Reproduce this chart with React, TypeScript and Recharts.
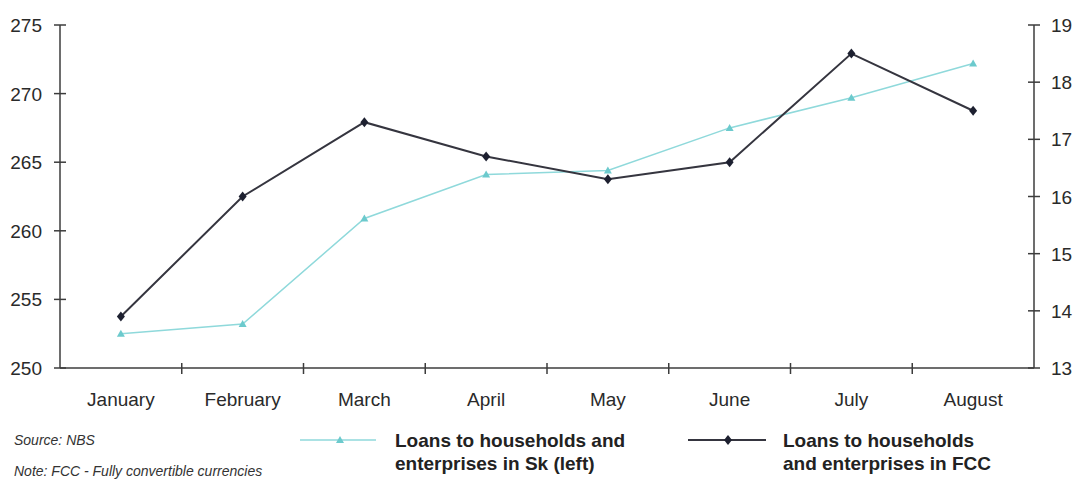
import { LineChart, Line, XAxis, YAxis } from 'recharts'

const months = ['January', 'February', 'March', 'April', 'May', 'June', 'July', 'August']
const loansSk = [252.5, 253.2, 260.9, 264.1, 264.4, 267.5, 269.7, 272.2]
const loansFcc = [13.9, 16.0, 17.3, 16.7, 16.3, 16.6, 18.5, 17.5]
const leftTicks = [250, 255, 260, 265, 270, 275]
const rightTicks = [13, 14, 15, 16, 17, 18, 19]

const data = months.map((month, i) => ({ month, sk: loansSk[i], fcc: loansFcc[i] }))

const W = 1077
const H = 479
const AXIS = '#3c3c3c'
const TEXT = '#2a2a2a'
const CYAN = '#8fd9db'
const CYAN_DOT = '#6ccacd'
const DARK = '#35353f'
const FONT = '"Liberation Sans", Arial, sans-serif'
const BAND = (W - 60 - 43) / months.length

function Triangle(props: any) {
  const { cx, cy } = props
  if (cx == null || cy == null) return null
  return <path d={`M${cx},${cy - 4} L${cx + 4},${cy + 3} L${cx - 4},${cy + 3} Z`} fill={CYAN_DOT} />
}

function Diamond(props: any) {
  const { cx, cy } = props
  if (cx == null || cy == null) return null
  return <path d={`M${cx},${cy - 5} L${cx + 4},${cy} L${cx},${cy + 5} L${cx - 4},${cy} Z`} fill="#1d2030" />
}

function LeftTick(props: any) {
  const { x, y, payload } = props
  return (
    <g>
      <line x1={x - 6} x2={x + 6} y1={y} y2={y} stroke={AXIS} strokeWidth={1.5} />
      <text x={x - 18} y={y} dy={7} textAnchor="end" fontSize={19} fill={TEXT} fontFamily={FONT}>
        {payload.value}
      </text>
    </g>
  )
}

function RightTick(props: any) {
  const { x, y, payload } = props
  return (
    <g>
      <line x1={x - 6} x2={x + 6} y1={y} y2={y} stroke={AXIS} strokeWidth={1.5} />
      <text x={x + 17} y={y} dy={7} textAnchor="start" fontSize={19} fill={TEXT} fontFamily={FONT}>
        {payload.value}
      </text>
    </g>
  )
}

function MonthTick(props: any) {
  const { x, y, payload, index } = props
  const edge = x + BAND / 2
  return (
    <g>
      {index < months.length - 1 && (
        <line x1={edge} x2={edge} y1={y - 5} y2={y + 6} stroke={AXIS} strokeWidth={1.5} />
      )}
      <text x={x} y={y + 38} textAnchor="middle" fontSize={19} fill={TEXT} fontFamily={FONT}>
        {payload.value}
      </text>
    </g>
  )
}

export default function App() {
  return (
    <div style={{ position: 'absolute', left: 0, top: 0, width: W, height: H, background: '#fff', fontFamily: FONT }}>
      <LineChart width={W} height={H} data={data} margin={{ top: 25, right: 0, bottom: 71, left: 0 }}>
        <XAxis
          dataKey="month"
          stroke={AXIS}
          strokeWidth={1.5}
          tickLine={false}
          tickSize={0}
          tickMargin={0}
          height={40}
          interval={0}
          padding={{ left: BAND / 2, right: BAND / 2 }}
          tick={<MonthTick />}
        />
        <YAxis
          yAxisId="left"
          domain={[250, 275]}
          ticks={leftTicks}
          width={60}
          stroke={AXIS}
          strokeWidth={1.5}
          tickLine={false}
          tickSize={0}
          tickMargin={0}
          tick={<LeftTick />}
        />
        <YAxis
          yAxisId="right"
          orientation="right"
          domain={[13, 19]}
          ticks={rightTicks}
          width={43}
          stroke={AXIS}
          strokeWidth={1.5}
          tickLine={false}
          tickSize={0}
          tickMargin={0}
          tick={<RightTick />}
        />
        <Line
          yAxisId="left"
          dataKey="sk"
          stroke={CYAN}
          strokeWidth={1.5}
          dot={<Triangle />}
          isAnimationActive={false}
        />
        <Line
          yAxisId="right"
          dataKey="fcc"
          stroke={DARK}
          strokeWidth={2}
          dot={<Diamond />}
          isAnimationActive={false}
        />
      </LineChart>

      <div style={{ position: 'absolute', left: 14, top: 432, fontSize: 14, fontStyle: 'italic', color: '#333' }}>
        Source: NBS
      </div>
      <div style={{ position: 'absolute', left: 14, top: 463, fontSize: 14, fontStyle: 'italic', color: '#333' }}>
        Note: FCC - Fully convertible currencies
      </div>

      <svg style={{ position: 'absolute', left: 0, top: 0 }} width={W} height={H}>
        <line x1={300} x2={376} y1={440} y2={440} stroke={CYAN} strokeWidth={1.5} />
        <Triangle cx={340} cy={440} />
        <line x1={688} x2={766} y1={440} y2={440} stroke={DARK} strokeWidth={2} />
        <Diamond cx={728} cy={440} />
      </svg>

      <div style={{ position: 'absolute', left: 395, top: 429, fontSize: 19, fontWeight: 'bold', color: '#222', lineHeight: '23px' }}>
        Loans to households and
        <br />
        enterprises in Sk (left)
      </div>
      <div style={{ position: 'absolute', left: 783, top: 429, fontSize: 19, fontWeight: 'bold', color: '#222', lineHeight: '23px' }}>
        Loans to households
        <br />
        and enterprises in FCC
      </div>
    </div>
  )
}
